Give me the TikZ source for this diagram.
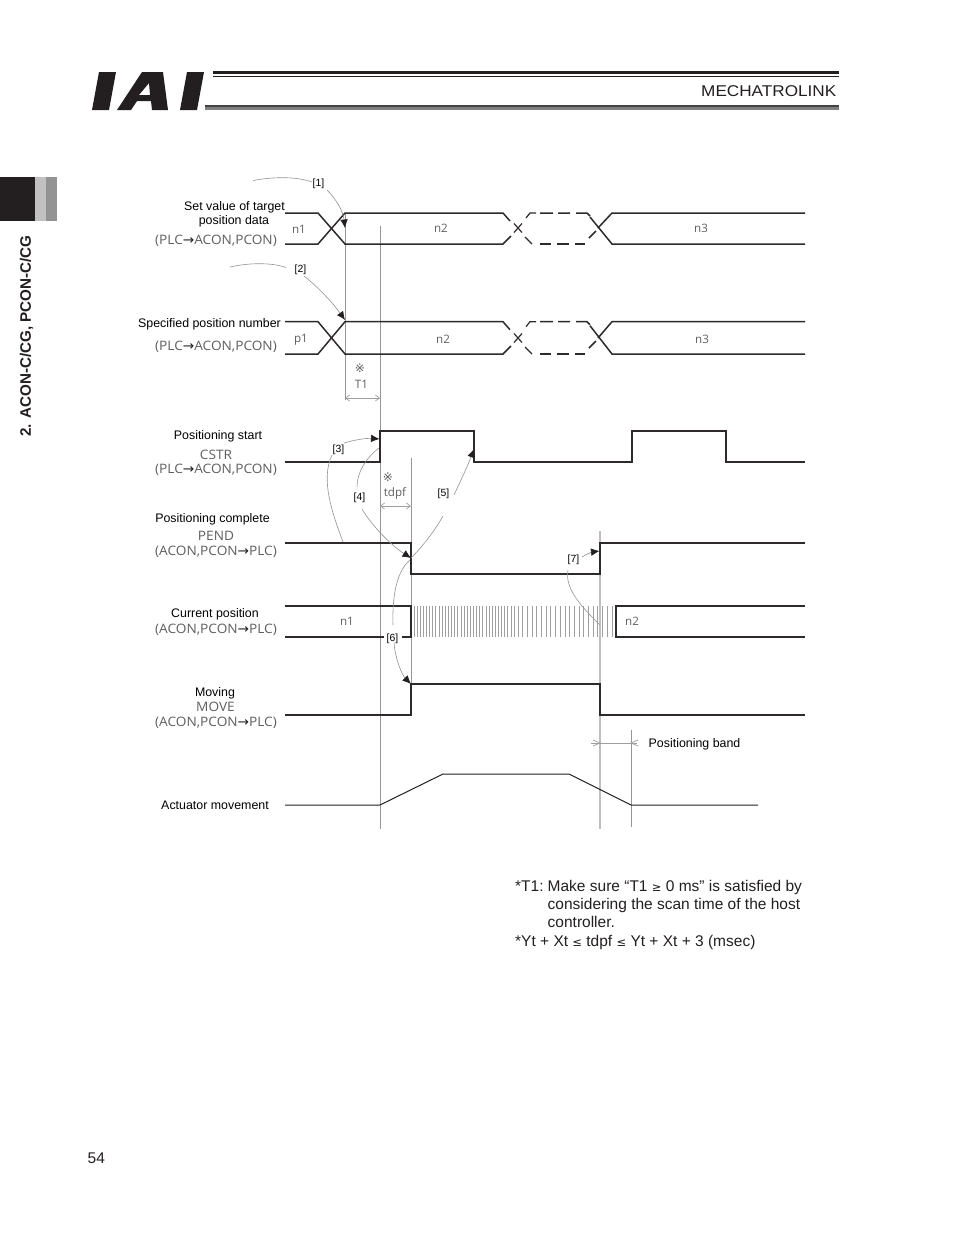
\documentclass[tikz,border=0pt]{standalone}
\usepackage{fontspec}
\setmainfont{Liberation Sans}
\newfontfamily\grayfont{Open Sans}
\usetikzlibrary{arrows.meta}
\definecolor{ink}{HTML}{231F20}
\definecolor{soft}{HTML}{5F5F5F}
\definecolor{guide}{HTML}{969696}
\tikzset{
  x=1pt,y=-1pt,
  sig/.style={draw=ink!95!white,line width=1.5pt,line join=miter},
  thinsig/.style={draw=ink,line width=1pt},
  guideline/.style={draw=guide,line width=0.8pt},
  wideguide/.style={draw=gray!50,line width=2.2pt},
  callout/.style={draw=gray!85,line width=0.6pt},
  tip/.style={-{Latex[length=8.5pt,width=7.5pt,ink]}},
  dim/.style={draw=gray!75,line width=0.7pt,{Straight Barb[length=4pt,width=6pt,gray!75]}-{Straight Barb[length=4pt,width=6pt,gray!75]}},
  lab/.style={font=\fontsize{12.4}{13}\selectfont,text=black,inner sep=0pt,anchor=center,yshift=-0.9pt},
  sig text/.style={font=\grayfont\fontsize{11.6}{13}\selectfont,text=soft,inner sep=0pt,anchor=center},
  bus text/.style={font=\grayfont\fontsize{13}{14}\selectfont,text=soft,inner sep=0pt,anchor=center,xscale=1.05,yshift=-0.9pt},
  num/.style={font=\fontsize{10.4}{11}\selectfont,text=black,inner sep=0pt,anchor=center,yshift=-1.7pt},
  note/.style={font=\fontsize{15.5}{16}\selectfont,text=ink,inner sep=0pt,anchor=base west},
}
\newcommand{\ArrR}{{\fontspec{DejaVu Sans}\textcolor{ink}{→}}}
\newcommand{\RelSym}[1]{{\fontspec{DejaVu Sans}\fontsize{11.5}{13}\selectfont #1}}
\begin{document}
\begin{tikzpicture}
\useasboundingbox (0,0) rectangle (954,1235);
\fill[white] (0,0) rectangle (954,1235);
% logo
\fill[ink] (92,110) -- (99,72) -- (116,72) -- (109,110) -- cycle;
\fill[ink,even odd rule] (117,110) -- (142,72) -- (163,72) -- (168,110) -- (152,110) -- (151,101) -- (137,101) -- (131,110) -- cycle
  (139,95) -- (150,95) -- (149,83) -- cycle;
\fill[ink] (180,110) -- (187,72) -- (204,72) -- (197,110) -- cycle;
\fill[ink] (213,71) rectangle (839,74);
\fill[ink] (213,75.5) rectangle (839,76.5);
\fill[ink!85!white] (205,105.3) rectangle (839,107.3);
\fill[gray] (205,107.3) rectangle (839,110);
\node[font=\fontsize{15.6}{16}\selectfont,text=ink,inner sep=0pt,anchor=east,xscale=1.10] (hdr) at (836.5,91) {MECHATROLINK};
% side tab
\fill[ink] (0,177) rectangle (35,221);
\fill[gray!130!black!70] (35,177) rectangle (46,221);
\fill[gray!85] (46,177) rectangle (57,221);
\node[rotate=90,font=\bfseries\fontsize{15.2}{16}\selectfont,text=ink,inner sep=0pt] (side) at (26.5,336) {2. ACON-C/CG, PCON-C/CG};
% guides
\draw[guideline] (345,213) -- (345,400);
\draw[guideline] (380,226) -- (380,829);
\draw[guideline] (411,458) -- (411,715);
\draw[wideguide] (600,531) -- (600,829);
\draw[guideline] (631,730) -- (631,827);
% hatching
\foreach \x in {414,417.13,...,515}{\draw[draw=gray!75,line width=0.9pt] (\x,606) -- (\x,637);}
\foreach \x in {518,522.7,...,613}{\draw[draw=gray!75,line width=0.9pt] (\x,606) -- (\x,637);}
% bus rows
\foreach \t/\b/\c in {213/244/228,321.7/354/338}{
  \draw[sig] (285,\t) -- (318,\t) -- (345,\b) -- (503,\b) -- (511,\b-8);
  \draw[sig] (285,\b) -- (318,\b) -- (345,\t) -- (503,\t) -- (510,\t+8);
  \draw[sig,line width=1.2pt] (514,\c-4.5) -- (522,\c+4.5);
  \draw[sig,line width=1.2pt] (514,\c+4.5) -- (522,\c-4.5);
  \draw[sig,line width=1.2pt] (526,\t+5) -- (530,\t) -- (536,\t);
  \draw[sig,line width=1.2pt] (525,\b-7) -- (532,\b);
  \draw[sig] (540,\t) -- (553,\t) (558,\t) -- (570,\t) (576,\t) -- (587,\t) -- (590,\t+3);
  \draw[sig] (540,\b) -- (551,\b) (557,\b) -- (569,\b) (575,\b) -- (585,\b);
  \draw[sig] (590,\t+4) -- (612,\b) -- (805,\b);
  \draw[sig] (589,\b-6) -- (596,\b-13);
  \draw[sig] (598,\b-16) -- (612,\t) -- (805,\t);
}
% binary rows
\draw[sig] (285,462) -- (380,462) -- (380,431) -- (474,431) -- (474,462) -- (632,462) -- (632,431) -- (726,431) -- (726,462) -- (805,462);
\draw[sig] (285,543) -- (411,543) -- (411,574) -- (600,574) -- (600,543) -- (805,543);
\draw[sig] (285,606) -- (411,606) -- (411,637) -- (402,637);
\draw[sig] (384,637) -- (285,637);
\draw[sig] (805,606) -- (616,606) -- (616,637) -- (805,637);
\draw[sig] (285,715) -- (411,715) -- (411,684) -- (600,684) -- (600,715) -- (805,715);
\draw[thinsig] (285,805) -- (380,805) -- (443,774) -- (569,774) -- (631,805) -- (758,805);
% dimension lines
\draw[dim] (345,398) -- (380,398);
\draw[dim] (380,506) -- (411,506);
\draw[draw=gray!75,line width=0.7pt] (591,743) -- (637,743);
\draw[draw=gray!75,line width=0.7pt] (593,740) -- (600,743) -- (593,746);
\draw[draw=gray!75,line width=0.7pt] (638,740) -- (631,743) -- (638,746);
% row labels
\node[lab] (a1) at (234.5,206) {Set value of target};
\node[lab] (a2) at (234,220) {position data};
\node[bus text] (a3) at (216,240) {(PLC\ArrR ACON,PCON)};
\node[lab] (b1) at (209.5,323) {Specified position number};
\node[bus text] (b2) at (216,345.5) {(PLC\ArrR ACON,PCON)};
\node[lab] (c1) at (218,435) {Positioning start};
\node[bus text] (c2) at (216,453.5) {CSTR};
\node[bus text] (c3) at (216,469) {(PLC\ArrR ACON,PCON)};
\node[lab] (d1) at (212.5,518) {Positioning complete};
\node[bus text] (d2) at (216,534.5) {PEND};
\node[bus text] (d3) at (216,550.5) {(ACON,PCON\ArrR PLC)};
\node[lab] (e1) at (215,613) {Current position};
\node[bus text] (e2) at (216,629) {(ACON,PCON\ArrR PLC)};
\node[lab] (f1) at (215,692) {Moving};
\node[bus text] (f2) at (215.5,706) {MOVE};
\node[bus text] (f3) at (216,721.5) {(ACON,PCON\ArrR PLC)};
\node[lab] (g1) at (215,804.2) {Actuator movement};
% values
\node[sig text] (v1) at (299,229.5) {n1};
\node[sig text] (v2) at (441,228) {n2};
\node[sig text] (v3) at (701,228) {n3};
\node[sig text] (v4) at (301,339.5) {p1};
\node[sig text] (v5) at (443,339) {n2};
\node[sig text] (v6) at (702,339) {n3};
\node[sig text] (v7) at (347,621) {n1};
\node[sig text] (v8) at (632,621) {n2};
\node[sig text,font=\fontspec{DejaVu Sans}\fontsize{12}{13}\selectfont] (k1) at (360,368) {※};
\node[sig text] (t1) at (361.5,384) {T1};
\node[sig text,font=\fontspec{DejaVu Sans}\fontsize{12}{13}\selectfont] (k2) at (388,477) {※};
\node[sig text] (t2) at (395,493) {tdpf};
\node[lab,anchor=west] (pb) at (648.5,743) {Positioning band};
% callout labels
\node[num] (n1) at (318.5,182) {[1]};
\node[num] (n2) at (300.5,268) {[2]};
\node[num] (n3) at (338.5,448) {[3]};
\node[num] (n4) at (359.5,496.5) {[4]};
\node[num] (n5) at (443.5,492.5) {[5]};
\node[num] (n6) at (392.5,637) {[6]};
\node[num] (n7) at (573.5,558) {[7]};
% callouts
\coordinate (tip1) at (345,228);
\coordinate (tip2) at (345,320);
\coordinate (tip3) at (379.5,439);
\coordinate (tip4) at (411,558);
\coordinate (tip5) at (474,449);
\coordinate (tip6) at (411,684);
\coordinate (tip7) at (599.5,551);
\draw[callout] (253,180.5) .. controls (272,177) and (295,176) .. (312,182);
\draw[callout,tip] (327,190) .. controls (335,198) and (343,210) .. (tip1);
\draw[callout] (230,267) .. controls (248,263) and (270,262) .. (286,267.5);
\draw[callout,tip] (304,276) .. controls (318,287) and (333,303) .. (tip2);
\draw[callout] (343,542) .. controls (333,515) and (320,480) .. (332,455);
\draw[callout,tip] (344,443) .. controls (354,440) and (366,438) .. (tip3);
\draw[callout] (379,448) .. controls (366,458) and (357,472) .. (357,487);
\draw[callout,tip] (362,509) .. controls (372,526) and (392,546) .. (tip4);
\draw[callout] (411,558) .. controls (422,547) and (434,532) .. (443,516);
\draw[callout,tip] (454,495) .. controls (461,480) and (468,465) .. (tip5);
\draw[callout] (410,560) .. controls (398,570) and (392,592) .. (393,625);
\draw[callout,tip] (394,643) .. controls (395,658) and (402,675) .. (tip6);
\draw[callout,tip] (582,557) .. controls (587,554) and (592,552) .. (tip7);
\draw[callout] (568,570) .. controls (564,590) and (585,610) .. (600,625);
% footnotes
\node[note] (m0) at (515,891) {*T1:};
\node[note] (m1) at (547.5,891) {Make sure “T1 \RelSym{≥} 0 ms” is satisfied by};
\node[note] (m2) at (547.5,909) {considering the scan time of the host};
\node[note] (m3) at (547.5,927) {controller.};
\node[note] (m4) at (515,946) {*Yt + Xt \RelSym{≤} tdpf \RelSym{≤} Yt + Xt + 3 (msec)};
\node[note] (pg) at (87.5,1163) {54};
\end{tikzpicture}
\end{document}
